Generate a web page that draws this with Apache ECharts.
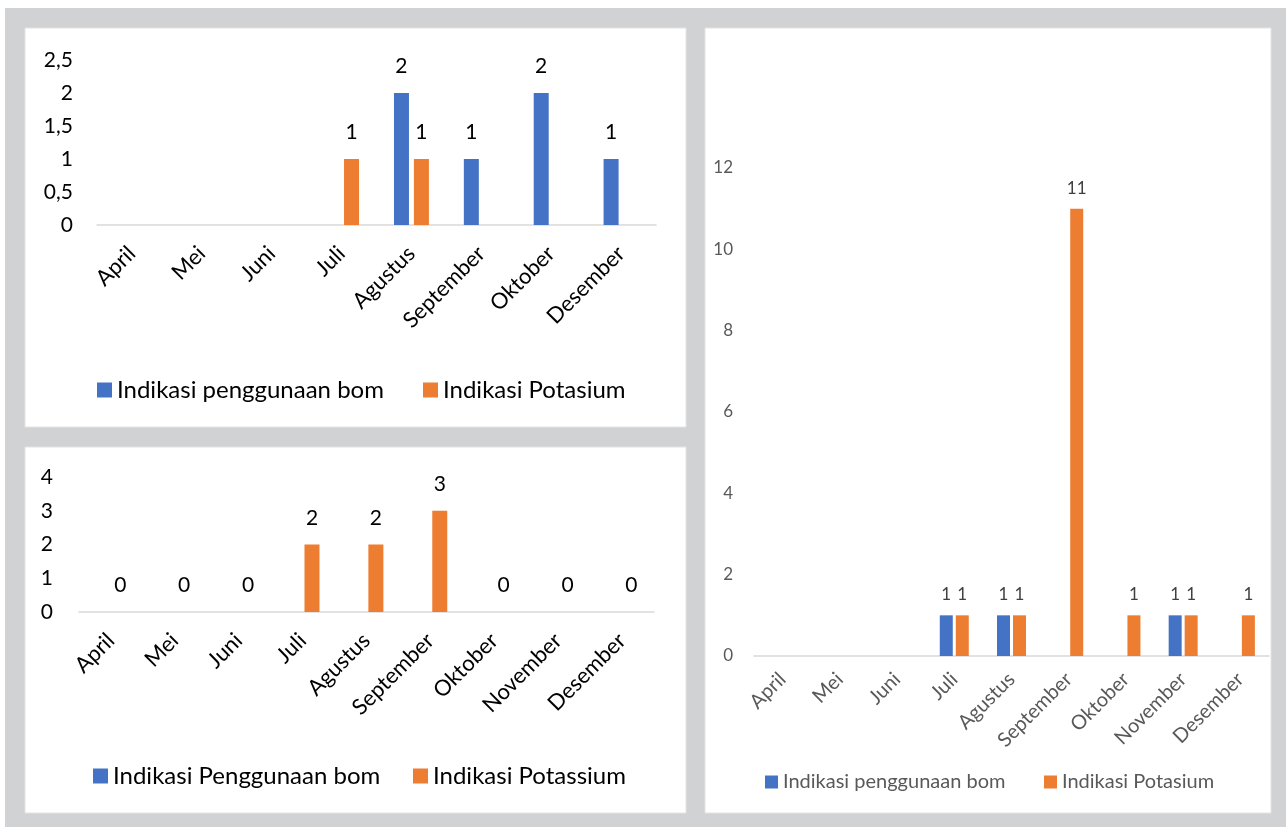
<!DOCTYPE html>
<html>
<head>
<meta charset="utf-8">
<script src="https://cdn.jsdelivr.net/npm/echarts@6/dist/echarts.min.js"></script>
<style>
  html, body { margin: 0; padding: 0; background: #ffffff; }
  #chart { width: 1286px; height: 827px; }
</style>
</head>
<body>
<div id="chart"></div>
<script>
// Panel 1 (top left)
const months1 = ['April', 'Mei', 'Juni', 'Juli', 'Agustus', 'September', 'Oktober', 'Desember'];
const bom1 = [null, null, null, null, 2, 1, 2, 1];
const pot1 = [null, null, null, 1, 1, null, null, null];
const yTicks1 = { min: 0, max: 2.5, interval: 0.5 };

// Panel 2 (bottom left)
const months2 = ['April', 'Mei', 'Juni', 'Juli', 'Agustus', 'September', 'Oktober', 'November', 'Desember'];
const bom2 = [null, null, null, null, null, null, null, null, null];
const pot2 = [0, 0, 0, 2, 2, 3, 0, 0, 0];
const yTicks2 = { min: 0, max: 4, interval: 1 };

// Panel 3 (right)
const months3 = ['April', 'Mei', 'Juni', 'Juli', 'Agustus', 'September', 'Oktober', 'November', 'Desember'];
const bom3 = [null, null, null, 1, 1, null, null, 1, null];
const pot3 = [null, null, null, 1, 1, 11, 1, 1, 1];
const yTicks3 = { min: 0, max: 12, interval: 2 };

const names1 = ['Indikasi penggunaan bom', 'Indikasi Potasium'];
const names2 = ['Indikasi Penggunaan bom', 'Indikasi Potassium'];

const BLUE = '#4472C4';
const ORANGE = '#ED7D31';
const FONT = 'Lato, "Open Sans", sans-serif';
const AXIS_LINE = '#d9d9d9';

const chart = echarts.init(document.getElementById('chart'), null, { renderer: 'canvas' });

function xAxisFor(idx, data, color, size, margin) {
  return {
    type: 'category', gridIndex: idx, data: data,
    axisTick: { show: false },
    axisLine: { lineStyle: { color: AXIS_LINE, width: 1.5 } },
    axisLabel: { interval: 0, rotate: 45, color: color, fontSize: size, fontFamily: FONT, margin: margin }
  };
}
function yAxisFor(idx, t, color, size, margin, fmt) {
  return {
    type: 'value', gridIndex: idx, min: t.min, max: t.max, interval: t.interval,
    axisLine: { show: false }, axisTick: { show: false }, splitLine: { show: false },
    axisLabel: { color: color, fontSize: size, fontFamily: FONT, margin: margin, formatter: fmt }
  };
}
function barSeries(name, idx, data, color, width, gap, labelColor, labelSize, dist) {
  return {
    type: 'bar', name: name, xAxisIndex: idx, yAxisIndex: idx, data: data,
    barWidth: width, barGap: gap,
    itemStyle: { color: color },
    label: { show: true, position: 'top', distance: dist, color: labelColor, fontSize: labelSize, fontFamily: FONT },
    emphasis: { disabled: true }
  };
}
function legendItem(name, left, top, size, iconW, color) {
  return {
    data: [name], left: left, top: top, icon: 'rect',
    itemWidth: iconW, itemHeight: iconW, padding: 0,
    selectedMode: false,
    textStyle: { color: color, fontSize: size, fontFamily: FONT }
  };
}

const option = {
  animation: false,
  graphic: [
    { type: 'rect', shape: { x: 5, y: 8, width: 1281, height: 819 }, style: { fill: '#d1d2d4' }, silent: true, z: -10 },
    { type: 'rect', shape: { x: 25, y: 28, width: 661, height: 399 }, style: { fill: '#ffffff', stroke: '#e4e4e4', lineWidth: 1 }, silent: true, z: -9 },
    { type: 'rect', shape: { x: 25, y: 447, width: 661, height: 366 }, style: { fill: '#ffffff', stroke: '#e4e4e4', lineWidth: 1 }, silent: true, z: -9 },
    { type: 'rect', shape: { x: 705, y: 28, width: 566, height: 785 }, style: { fill: '#ffffff', stroke: '#e4e4e4', lineWidth: 1 }, silent: true, z: -9 }
  ],
  grid: [
    { left: 97, top: 60, width: 559, height: 165, containLabel: false },
    { left: 79, top: 477, width: 575, height: 135, containLabel: false },
    { left: 754, top: 168, width: 515, height: 488, containLabel: false }
  ],
  xAxis: [
    xAxisFor(0, months1, '#000000', 22, 25),
    xAxisFor(1, months2, '#000000', 22, 25),
    xAxisFor(2, months3, '#595959', 20, 20)
  ],
  yAxis: [
    yAxisFor(0, yTicks1, '#000000', 21, 24, v => String(v).replace('.', ',')),
    yAxisFor(1, yTicks2, '#000000', 21, 26),
    yAxisFor(2, yTicks3, '#595959', 17, 21)
  ],
  legend: [
    legendItem(names1[0], 97, 378, 24, 15, '#000000'),
    legendItem(names1[1], 423, 378, 24, 15, '#000000'),
    legendItem(names2[0], 93, 764, 24, 15, '#000000'),
    legendItem(names2[1], 413, 764, 24, 15, '#000000'),
    legendItem(names1[0], 765, 772, 20, 13, '#595959'),
    legendItem(names1[1], 1044, 772, 20, 13, '#595959')
  ],
  series: [
    barSeries(names1[0], 0, bom1, BLUE, 15, '33%', '#000000', 21, 16),
    barSeries(names1[1], 0, pot1, ORANGE, 15, '33%', '#000000', 21, 16),
    barSeries(names2[0], 1, bom2, BLUE, 15, '25%', '#000000', 21, 16),
    barSeries(names2[1], 1, pot2, ORANGE, 15, '25%', '#000000', 21, 16),
    barSeries(names1[0], 2, bom3, BLUE, 13, '23%', '#404040', 17, 12),
    barSeries(names1[1], 2, pot3, ORANGE, 13, '23%', '#404040', 17, 12)
  ]
};

chart.setOption(option);
</script>
</body>
</html>
